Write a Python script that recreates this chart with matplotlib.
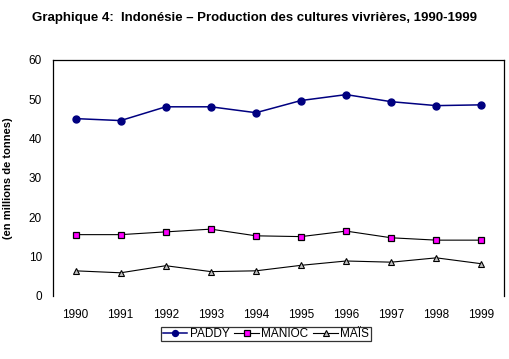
import matplotlib
matplotlib.use("Agg")
import matplotlib.pyplot as plt

years = ["1990", "1991", "1992", "1993", "1994", "1995", "1996", "1997", "1998", "1999"]
paddy = [45.1, 44.6, 48.1, 48.1, 46.6, 49.7, 51.2, 49.4, 48.4, 48.6]
manioc = [15.6, 15.6, 16.3, 17.0, 15.3, 15.1, 16.5, 14.8, 14.2, 14.2]
mais = [6.4, 5.9, 7.7, 6.2, 6.4, 7.8, 8.9, 8.6, 9.7, 8.2]
yticks = [0, 10, 20, 30, 40, 50, 60]

plt.rcParams['font.family'] = ['Liberation Sans', 'DejaVu Sans']

fig = plt.figure(figsize=(5.10, 3.59), dpi=100)
ax = fig.add_axes([53/510, 1-296/359, (504-53)/510, (296-60)/359])

x = list(range(len(years)))
ax.plot(x, paddy, color='#000080', lw=1.1, marker='o', ms=5,
        mfc='#000080', mec='#000080', label='PADDY')
ax.plot(x, manioc, color='black', lw=0.8, marker='s', ms=4.5,
        mfc='#FF00FF', mec='black', mew=0.9, label='MANIOC')
ax.plot(x, mais, color='black', lw=0.8, marker='^', ms=4.8,
        mfc='#C0C0C0', mec='black', mew=0.8, label='MAÏS')

ax.set_xlim(-0.5, len(years)-0.5)
ax.set_ylim(0, 60)
ax.set_xticks(x)
ax.set_xticklabels(years, fontsize=8.5)
ax.set_yticks(yticks)
ax.set_yticklabels([str(v) for v in yticks], fontsize=8.5)
ax.tick_params(length=0, pad=8)
ax.tick_params(axis='x', pad=9)
for s in ['left', 'top', 'right']:
    ax.spines[s].set_linewidth(0.9)
    ax.spines[s].set_color('black')
ax.spines['bottom'].set_visible(False)

ax.set_ylabel('(en millions de tonnes)', fontsize=8, fontweight='bold', labelpad=11)

fig.text(255/510, 1-18/359, 'Graphique 4:  Indonésie \u2013 Production des cultures vivrières, 1990-1999',
         ha='center', va='center', fontsize=9.5, fontweight='bold')

leg = fig.legend(loc='center', bbox_to_anchor=(266/510, 1-334/359), ncol=3,
                 fontsize=8.5, frameon=True, fancybox=False, edgecolor='black',
                 handlelength=2.1, handletextpad=0.2, columnspacing=0.4,
                 borderpad=0.1, borderaxespad=0, markerscale=0.85)
leg.get_frame().set_linewidth(0.9)

fig.savefig('out.png', dpi=100)
